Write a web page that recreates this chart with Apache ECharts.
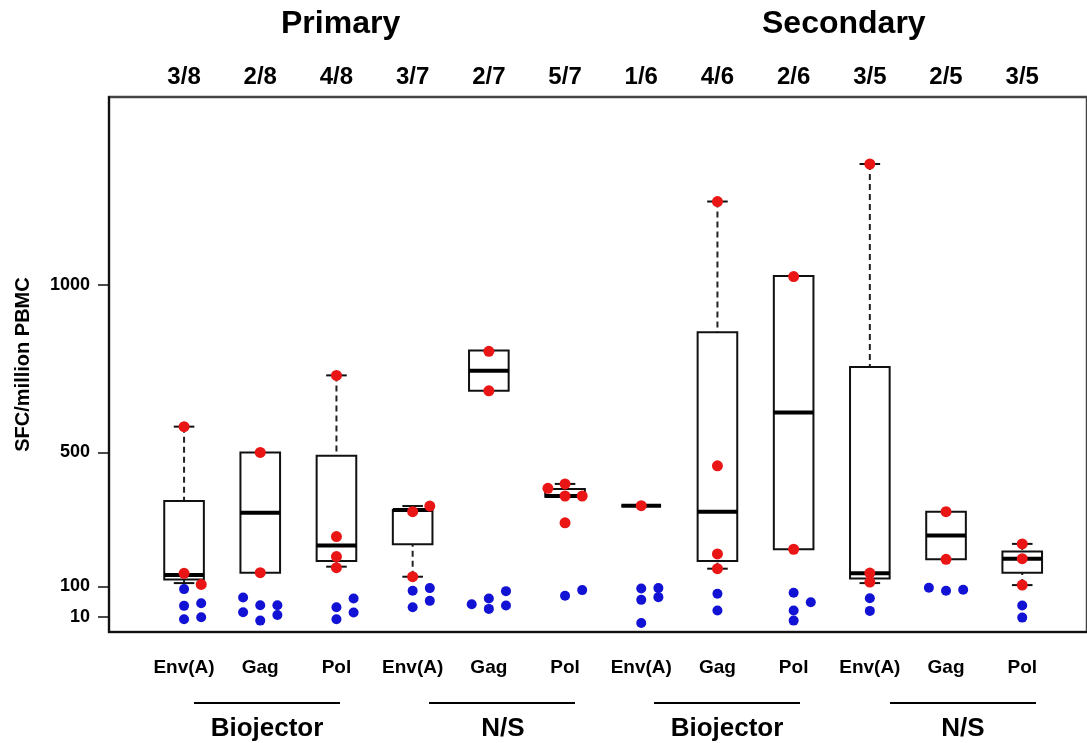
<!DOCTYPE html>
<html>
<head>
<meta charset="utf-8">
<script src="https://cdn.jsdelivr.net/npm/echarts@6/dist/echarts.min.js"></script>
<style>
html,body{margin:0;padding:0;background:#fff;}
#chart{width:1087px;height:743px;}
</style>
</head>
<body>
<div id="chart"></div>
<script>
// ---------------- DATA ----------------
const categories = ['Env(A)','Gag','Pol','Env(A)','Gag','Pol','Env(A)','Gag','Pol','Env(A)','Gag','Pol'];
const responders = ['3/8','2/8','4/8','3/7','2/7','5/7','1/6','4/6','2/6','3/5','2/5','3/5'];
const yTicks = [10, 100, 500, 1000];

// box statistics per category (null = no whisker drawn)
const whiskerLow  = [110, null, 159, 129, null, null, null, 153, null, 110, null, 104];
const boxQ1       = [121, 141, 176, 226, 684, 368, 341, 176, 211, 124, 181, 141];
const boxMedian   = [134, 320, 222, 328, 744, 370, 341, 323, 619, 139, 252, 183];
const boxQ3       = [355, 500, 490, 328, 804, 391, 341, 859, 1027, 755, 323, 204];
const whiskerHigh = [577, null, 730, 340, null, 406, null, 1249, null, 1361, null, 227];

// responders (red) and non-responders (blue) per category
const redValues = [
  [577, 139, 106],
  [500, 141],
  [730, 249, 189, 156],
  [340, 323, 129],
  [802, 684],
  [406, 393, 370, 370, 290],
  [341],
  [1249, 460, 197, 153],
  [1025, 211],
  [1361, 140, 113],
  [323, 181],
  [227, 183, 104]
];
const blueValues = [
  [92, 42, 2, 50, 8],
  [67, 23, 44, -2, 44, 15],
  [38, 2, 64, 22],
  [87, 38, 95, 57],
  [47, 64, 33, 86, 43],
  [72, 89],
  [94, 60, -9, 95, 68],
  [78, 28],
  [81, 28, -2, 53],
  [65, 27],
  [96, 87, 90],
  [43, 7]
];

// ---------------- LAYOUT (jitter columns, not data) ----------------
const redCols = [
  [0,0,1],[0,0],[0,0,0,0],[1,0,0],[0,0],[0,-1,0,1,0],[0],[0,0,0,0],[0,0],[0,0,0],[0,0],[0,0,0]
];
const blueCols = [
  [0,0,0,1,1],[-1,-1,0,0,1,1],[0,0,1,1],[0,0,1,1],[-1,0,0,1,1],[0,1],[0,0,0,1,1],[0,0],[0,0,0,1],[0,0],[-1,0,1],[0,0]
];
const jitterStep = 0.225;
const boxWidth = 0.52;
const capWidth = 0.27;
const FONT = "'Liberation Sans', Arial, Helvetica, sans-serif";

function points(values, cols) {
  const out = [];
  values.forEach((arr, i) => arr.forEach((v, k) => out.push([i + cols[i][k] * jitterStep, v])));
  return out;
}

const chart = echarts.init(document.getElementById('chart'), null, {renderer: 'canvas'});

const boxData = categories.map((c, i) => [i, boxQ1[i], boxQ3[i]]);

function renderBox(params, api) {
  const i = params.dataIndex;
  const cx = api.value(0);
  const half = api.size([boxWidth, 0])[0] / 2;
  const capHalf = api.size([capWidth, 0])[0] / 2;
  const P = v => api.coord([cx, v]);
  const children = [];
  const lineStyle = {stroke: '#111', lineWidth: 2, fill: null};
  const dashStyle = {stroke: '#222', lineWidth: 2, lineDash: [6, 4], fill: null};
  const q1 = P(boxQ1[i]), q3 = P(boxQ3[i]), md = P(boxMedian[i]);
  if (whiskerHigh[i] != null) {
    const hi = P(whiskerHigh[i]);
    children.push({type: 'line', shape: {x1: hi[0], y1: hi[1], x2: q3[0], y2: q3[1]}, style: dashStyle});
    children.push({type: 'line', shape: {x1: hi[0] - capHalf, y1: hi[1], x2: hi[0] + capHalf, y2: hi[1]}, style: lineStyle});
  }
  if (whiskerLow[i] != null) {
    const lo = P(whiskerLow[i]);
    children.push({type: 'line', shape: {x1: lo[0], y1: lo[1], x2: q1[0], y2: q1[1]}, style: dashStyle});
    children.push({type: 'line', shape: {x1: lo[0] - capHalf, y1: lo[1], x2: lo[0] + capHalf, y2: lo[1]}, style: lineStyle});
  }
  children.push({type: 'rect', shape: {x: q3[0] - half, y: q3[1], width: half * 2, height: q1[1] - q3[1]},
    style: {stroke: '#111', lineWidth: 2, fill: 'rgba(0,0,0,0)'}});
  children.push({type: 'line', shape: {x1: md[0] - half, y1: md[1], x2: md[0] + half, y2: md[1]},
    style: {stroke: '#000', lineWidth: 4}});
  return {type: 'group', children};
}

const idx = categories.map((c, i) => i);

const option = {
  backgroundColor: '#fff',
  animation: false,
  textStyle: {fontFamily: FONT},
  grid: {left: 109, right: -4, top: 97, bottom: 111, show: true, borderColor: '#444', borderWidth: 2.5, backgroundColor: 'transparent'},
  xAxis: [
    {
      type: 'value', position: 'bottom', min: -0.985, max: 11.85,
      splitLine: {show: false},
      axisLine: {show: true, onZero: false, lineStyle: {color: '#111', width: 2}},
      axisTick: {show: false},
      axisLabel: {
        customValues: idx, margin: 26,
        formatter: v => categories[Math.round(v)],
        fontSize: 19, fontWeight: 'bold', color: '#000', fontFamily: FONT
      }
    },
    {
      type: 'value', position: 'top', min: -0.985, max: 11.85,
      splitLine: {show: false},
      axisLine: {show: false, onZero: false},
      axisTick: {show: false},
      axisLabel: {
        customValues: idx, margin: 8,
        formatter: v => responders[Math.round(v)],
        fontSize: 24, fontWeight: 'bold', color: '#000', fontFamily: FONT
      }
    }
  ],
  yAxis: {
    type: 'value', min: -36, max: 1561, position: 'left',
    name: 'SFC/million PBMC', nameLocation: 'middle', nameGap: 76, nameRotate: 90,
    nameTextStyle: {fontSize: 20, fontWeight: 'bold', color: '#000', fontFamily: FONT},
    splitLine: {show: false},
    axisLine: {show: true, onZero: false, lineStyle: {color: '#111', width: 2}},
    axisTick: {show: true, customValues: yTicks, length: 11, lineStyle: {color: '#111', width: 1.5}},
    axisLabel: {customValues: yTicks, margin: 19, formatter: v => String(v),
      fontSize: 18, fontWeight: 'bold', color: '#000', fontFamily: FONT}
  },
  graphic: [
    {type: 'text', left: 281, top: 8, style: {text: 'Primary', font: "bold 32px " + FONT, fill: '#000'}},
    {type: 'text', left: 762, top: 8, style: {text: 'Secondary', font: "bold 32px " + FONT, fill: '#000'}},
    {type: 'line', shape: {x1: 194, y1: 703, x2: 340, y2: 703}, style: {stroke: '#000', lineWidth: 2}},
    {type: 'line', shape: {x1: 429, y1: 703, x2: 575, y2: 703}, style: {stroke: '#000', lineWidth: 2}},
    {type: 'line', shape: {x1: 654, y1: 703, x2: 800, y2: 703}, style: {stroke: '#000', lineWidth: 2}},
    {type: 'line', shape: {x1: 890, y1: 703, x2: 1036, y2: 703}, style: {stroke: '#000', lineWidth: 2}},
    {type: 'text', x: 267, y: 729, style: {text: 'Biojector', font: "bold 26px " + FONT, fill: '#000', align: 'center', verticalAlign: 'middle'}},
    {type: 'text', x: 503, y: 729, style: {text: 'N/S', font: "bold 26px " + FONT, fill: '#000', align: 'center', verticalAlign: 'middle'}},
    {type: 'text', x: 727, y: 729, style: {text: 'Biojector', font: "bold 26px " + FONT, fill: '#000', align: 'center', verticalAlign: 'middle'}},
    {type: 'text', x: 963, y: 729, style: {text: 'N/S', font: "bold 26px " + FONT, fill: '#000', align: 'center', verticalAlign: 'middle'}}
  ],
  series: [
    {
      type: 'custom', name: 'box', xAxisIndex: 0, yAxisIndex: 0,
      data: boxData, renderItem: renderBox, clip: false, z: 2,
      encode: {x: 0, y: [1, 2]}
    },
    {
      type: 'scatter', name: 'non-responders', xAxisIndex: 0,
      data: points(blueValues, blueCols), symbolSize: 10,
      itemStyle: {color: '#1212d4', opacity: 1}, z: 3
    },
    {
      type: 'scatter', name: 'responders', xAxisIndex: 0,
      data: points(redValues, redCols), symbolSize: 11,
      itemStyle: {color: '#ea1515', opacity: 1}, z: 4
    }
  ]
};
chart.setOption(option);
</script>
</body>
</html>
